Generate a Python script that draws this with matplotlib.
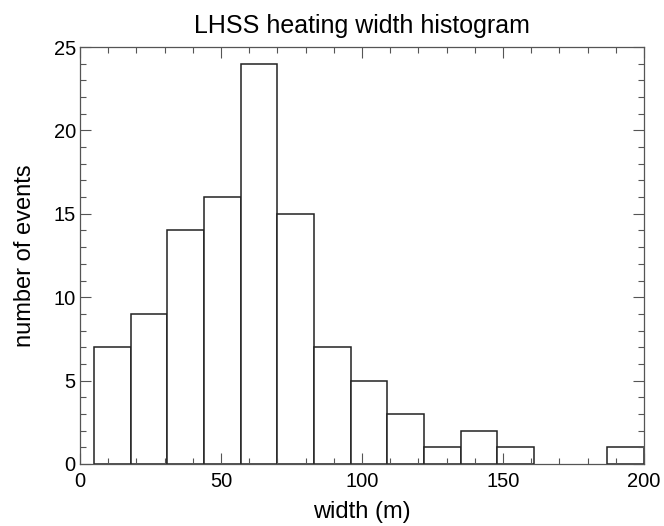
import numpy as np
import matplotlib.pyplot as plt
from matplotlib.ticker import MultipleLocator

# histogram bins (width 13 m, from 5 to 200)
bin_edges = [5, 18, 31, 44, 57, 70, 83, 96, 109, 122, 135, 148, 161, 174, 187, 200]
counts = [7, 9, 14, 16, 24, 15, 7, 5, 3, 1, 2, 1, 0, 0, 1]

plt.rcParams['font.family'] = ['Liberation Sans', 'DejaVu Sans']

fig = plt.figure(figsize=(6.64, 5.26), dpi=100)
ax = fig.add_axes([0.1205, 0.1179, 0.8495, 0.7927])

left = np.array(bin_edges[:-1])
width = np.diff(bin_edges)
for x, w, c in zip(left, width, counts):
    if c > 0:
        ax.bar(x, c, width=w, align='edge', facecolor='white',
               edgecolor='#222222', linewidth=1.1)

ax.set_xlim(0, 200)
ax.set_ylim(0, 25)
ax.xaxis.set_major_locator(MultipleLocator(50))
ax.xaxis.set_minor_locator(MultipleLocator(10))
ax.yaxis.set_major_locator(MultipleLocator(5))
ax.yaxis.set_minor_locator(MultipleLocator(1))
ax.tick_params(which='both', direction='in', top=True, right=True,
               color='#555555', labelsize=14.5)
ax.tick_params(which='major', length=8, width=0.8)
ax.tick_params(which='minor', length=4, width=0.8)
ax.tick_params(axis='x', which='major', pad=6)
ax.tick_params(axis='y', which='major', pad=3)
for s in ax.spines.values():
    s.set_color('#555555')
    s.set_linewidth(0.9)

ax.set_xlabel('width (m)', fontsize=17, labelpad=7)
ax.set_ylabel('number of events', fontsize=17, labelpad=13)
ax.set_title('LHSS heating width histogram', fontsize=18, pad=10)

fig.savefig('out.png', dpi=100)
